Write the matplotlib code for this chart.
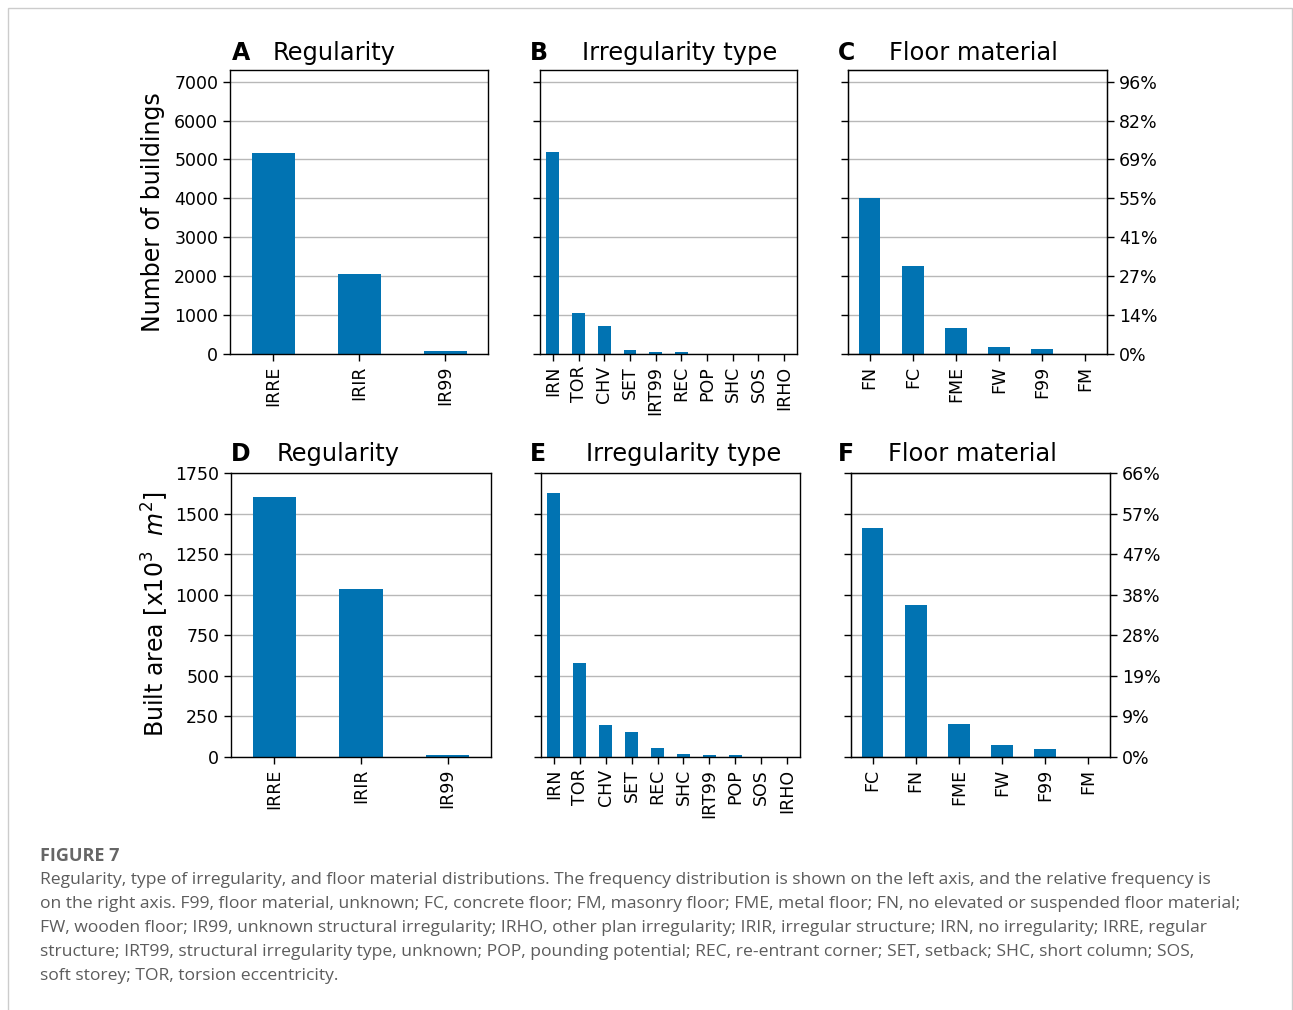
import numpy as np
import matplotlib
matplotlib.use('Agg')
import matplotlib.pyplot as plt
from matplotlib.patches import Rectangle

# top row: number of buildings
reg_labels = ['IRRE', 'IRIR', 'IR99']
reg_count = [5160, 2050, 80]
irr_labels_top = ['IRN', 'TOR', 'CHV', 'SET', 'IRT99', 'REC', 'POP', 'SHC', 'SOS', 'IRHO']
irr_count = [5200, 1060, 720, 110, 60, 40, 8, 6, 0, 0]
floor_labels_top = ['FN', 'FC', 'FME', 'FW', 'F99', 'FM']
floor_count = [4000, 2260, 670, 180, 130, 2]

# bottom row: built area (x10^3 m2)
reg_area = [1600, 1035, 15]
irr_labels_bot = ['IRN', 'TOR', 'CHV', 'SET', 'REC', 'SHC', 'IRT99', 'POP', 'SOS', 'IRHO']
irr_area = [1625, 582, 195, 152, 55, 20, 12, 10, 1, 0]
floor_labels_bot = ['FC', 'FN', 'FME', 'FW', 'F99', 'FM']
floor_area = [1410, 935, 203, 72, 47, 1]

W, H = 1293, 1010
BLUE = '#0173b2'
plt.rcParams['font.family'] = 'DejaVu Sans'

fig = plt.figure(figsize=(W / 100, H / 100), dpi=100)


def px_axes(x0, x1, y0, y1):
    return fig.add_axes([x0 / W, 1 - y1 / H, (x1 - x0) / W, (y1 - y0) / H])


def bar_panel(ax, labels, vals, ylim, yticks, show_left):
    x = np.arange(len(labels))
    ax.bar(x, vals, width=0.5, color=BLUE, zorder=2)
    ax.set_xlim(-0.5, len(labels) - 0.5)
    ax.set_ylim(0, ylim)
    ax.set_yticks(yticks)
    ax.set_xticks(x)
    ax.set_xticklabels(labels, rotation=90, fontsize=12.5)
    ax.yaxis.grid(True, color='#b8b8b8', linewidth=1, zorder=0)
    ax.tick_params(length=5, width=1, labelsize=12.5)
    if not show_left:
        ax.set_yticklabels([])
    for s in ax.spines.values():
        s.set_linewidth(1)


def right_pct(ax, yticks, total):
    ax2 = ax.twinx()
    ax2.set_ylim(ax.get_ylim())
    ax2.set_yticks(yticks)
    ax2.set_yticklabels(['%.0f%%' % (t / total * 100) for t in yticks])
    ax2.tick_params(length=5, width=1, labelsize=12.5)


top_ticks = np.arange(0, 7001, 1000)
bot_ticks = np.arange(0, 1751, 250)

axA = px_axes(230, 488, 70, 354)
bar_panel(axA, reg_labels, reg_count, 7300, top_ticks, True)
axB = px_axes(540, 797, 70, 354)
bar_panel(axB, irr_labels_top, irr_count, 7300, top_ticks, False)
axC = px_axes(848, 1107, 70, 354)
bar_panel(axC, floor_labels_top, floor_count, 7300, top_ticks, False)
right_pct(axC, top_ticks, sum(reg_count))

axD = px_axes(231, 491, 473, 757)
bar_panel(axD, reg_labels, reg_area, 1750, bot_ticks, True)
axE = px_axes(541, 800, 473, 757)
bar_panel(axE, irr_labels_bot, irr_area, 1750, bot_ticks, False)
axF = px_axes(851, 1110, 473, 757)
bar_panel(axF, floor_labels_bot, floor_area, 1750, bot_ticks, False)
right_pct(axF, bot_ticks, sum(reg_area))


def ftext(x, y, s, **kw):
    fig.text(x / W, 1 - y / H, s, **kw)


# panel letters and titles
heads = [(232, 273, 60, 'A', 'Regularity'), (530, 582, 60, 'B', 'Irregularity type'),
         (838, 889, 60, 'C', 'Floor material'), (231, 277, 461, 'D', 'Regularity'),
         (530, 586, 461, 'E', 'Irregularity type'), (838, 888, 461, 'F', 'Floor material')]
for lx, tx, by, letter, title in heads:
    ftext(lx, by, letter, fontsize=17, fontweight='bold', va='baseline')
    ftext(tx, by, title, fontsize=17.4, va='baseline')

ftext(153, 212, 'Number of buildings', fontsize=17, rotation=90, ha='center', va='center')
ftext(155, 614, 'Built area [x10$^3$  $m^2$]', fontsize=17, rotation=90, ha='center', va='center')

# caption
cap_color = '#5c5c5c'
ftext(40, 856, 'FIGURE 7', fontsize=13, fontweight='bold', color='#666666',
      family='Open Sans', va='center')
caption = [
    'Regularity, type of irregularity, and floor material distributions. The frequency distribution is shown on the left axis, and the relative frequency is',
    'on the right axis. F99, floor material, unknown; FC, concrete floor; FM, masonry floor; FME, metal floor; FN, no elevated or suspended floor material;',
    'FW, wooden floor; IR99, unknown structural irregularity; IRHO, other plan irregularity; IRIR, irregular structure; IRN, no irregularity; IRRE, regular',
    'structure; IRT99, structural irregularity type, unknown; POP, pounding potential; REC, re-entrant corner; SET, setback; SHC, short column; SOS,',
    'soft storey; TOR, torsion eccentricity.',
]
for i, line in enumerate(caption):
    ftext(40, 880 + 24 * i, line, fontsize=12.6, color=cap_color, family='Open Sans', va='center')

# page frame
fig.patches.append(Rectangle((8 / W, -0.01), (1292 - 8) / W, 1 - 8 / H + 0.01,
                             transform=fig.transFigure, fill=False,
                             edgecolor='#cccccc', linewidth=1))

fig.savefig('out.png', dpi=100)
